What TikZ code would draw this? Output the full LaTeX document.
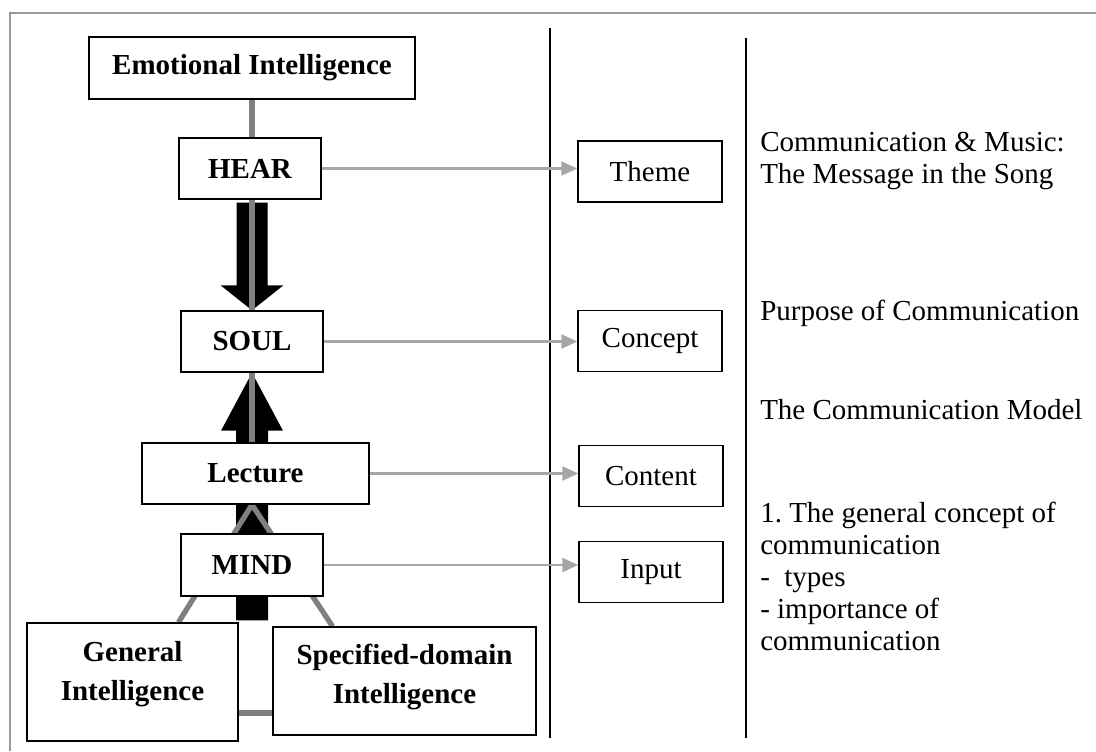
\documentclass[tikz,border=0pt]{standalone}
\usepackage{fontspec}
\setmainfont{Liberation Serif}
\usetikzlibrary{arrows.meta,backgrounds,calc}
\definecolor{framegray}{HTML}{999999}
\definecolor{linkgray}{HTML}{808080}
\definecolor{arrgray}{HTML}{A6A6A6}
\begin{document}
\frenchspacing
\begin{tikzpicture}[x=0.75pt,y=-0.75pt,
  box/.style={draw=black, line width=1.1pt, fill=white, inner sep=0pt, minimum height=45.75pt, font=\fontsize{21.75}{29}\selectfont, align=center},
  bbox/.style={box, font=\fontsize{21.75}{29}\selectfont\bfseries},
  btext/.style={font=\fontsize{21.75}{29}\selectfont\bfseries, align=center, inner sep=0pt},
  link/.style={draw=linkgray, line width=4pt},
  ptr/.style={draw=arrgray, line width=1.8pt, -{Triangle[length=12pt,width=10.5pt]}},
  divider/.style={draw=black, line width=1.5pt},
  note/.style={anchor=base west, font=\fontsize{21.75}{24}\selectfont\frenchspacing, align=left, inner sep=0pt}
]
\useasboundingbox (0,0) rectangle (1096,751);
\draw[framegray, line width=1.5pt] (1096,13) -- (10,13) -- (10,751);

% left column
\node[bbox, minimum width=244.5pt, minimum height=46.5pt] (ei) at (252,68) {Emotional Intelligence};
\node[bbox, minimum width=106.5pt] (hear) at (250,168.5) {HEAR};
\node[bbox, minimum width=106.5pt] (soul) at (252,341.5) {SOUL};
\node[bbox, minimum width=170.25pt] (lect) at (255.5,473.5) {Lecture};
\node[bbox, minimum width=106.5pt, minimum height=46.5pt] (mind) at (252,565) {MIND};
\node[box, minimum width=158.25pt, minimum height=88.5pt,
  label={[btext,yshift=6pt]center:General\\Intelligence}] (gi) at (132.5,682) {};
\node[box, minimum width=197.25pt, minimum height=81pt,
  label={[btext,yshift=3pt]center:Specified-domain\\Intelligence}] (sdi) at (404.5,681) {};

% middle column
\node[box, minimum width=108pt] (theme) at (650,171.5) {Theme};
\node[box, minimum width=108pt] (concept) at (650,341) {Concept};
\node[box, minimum width=108pt] (content) at (651,476) {Content};
\node[box, minimum width=108pt] (input) at (651,572) {Input};

% dividers
\coordinate (d1t) at (550,28);
\coordinate (d1b) at (550,738);
\coordinate (d2t) at (746,38);
\coordinate (d2b) at (746,738);
\draw[divider] (d1t) -- (d1b);
\draw[divider] (d2t) -- (d2b);

% right column (base anchor = baseline of the last line)
\node[note] (n1) at (760,183) {Communication \& Music:\\The Message in the Song};
\node[note] (n2) at (760,320) {Purpose of Communication};
\node[note] (n3) at (760,419) {The Communication Model};
\node[note] (n4) at (760,650) {1. The general concept of\\communication\\-\ \ types\\- importance of\\communication};

\begin{scope}[on background layer]
  % big black arrows
  \fill[black] ($(soul.north |- hear.south)+(-15.5,3)$) -- ($(soul.north |- hear.south)+(15.5,3)$)
    -- ($(soul.north)+(15.5,-25)$) -- ($(soul.north)+(31.5,-25)$) -- (soul.north)
    -- ($(soul.north)+(-31.5,-25)$) -- ($(soul.north)+(-15.5,-25)$) -- cycle;
  \coordinate (upbot) at ($(gi.north -| soul.south)+(0,-2)$);
  \fill[black] (soul.south) -- ($(soul.south)+(31,58)$) -- ($(soul.south)+(16,58)$)
    -- ($(upbot)+(16,0)$) -- ($(upbot)+(-16,0)$) -- ($(soul.south)+(-16,58)$)
    -- ($(soul.south)+(-31,58)$) -- cycle;
  % grey connectors
  \draw[link] (ei.south) -- (ei.south |- hear.north);
  \draw[link] (soul.north |- hear.south) -- (soul.north);
  \draw[link] (soul.south) -- (soul.south |- lect.north);
  \coordinate (apex) at (lect.south -| soul.south);
  \draw[link] ($(gi.north)+(46,0)$) -- (apex) -- ($(sdi.north)+(-72,0)$);
  \coordinate (gsl) at ($(gi.east)+(0,31)$);
  \draw[link] (gsl) -- (gsl -| sdi.west);
\end{scope}

% pointer arrows
\draw[ptr] (hear.east) -- (theme.west |- hear.east);
\draw[ptr] (soul.east) -- (concept.west |- soul.east);
\draw[ptr] (lect.east) -- (content.west |- lect.east);
\draw[ptr] (mind.east) -- (input.west |- mind.east);
\end{tikzpicture}
\end{document}
